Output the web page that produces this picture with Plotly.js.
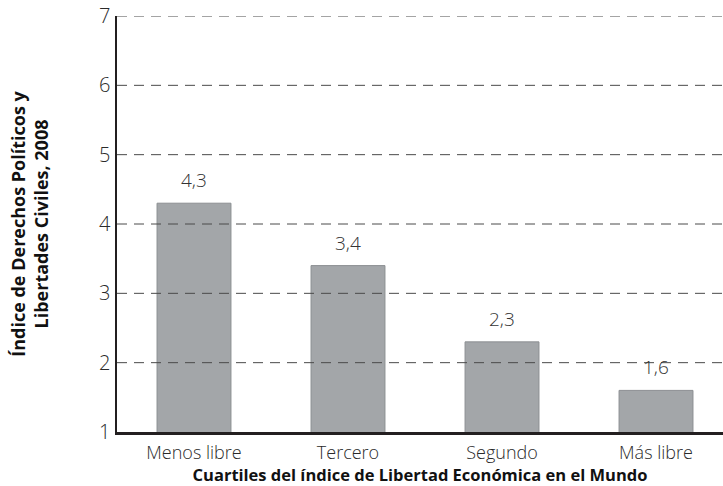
<!DOCTYPE html>
<html>
<head>
<meta charset="utf-8">
<script src="https://cdn.plot.ly/plotly-3.0.1.min.js"></script>
<style>html,body{margin:0;padding:0;background:#fff;}#chart{width:723px;height:486px;}</style>
</head>
<body>
<div id="chart"></div>
<script>
var categories = ["Menos libre", "Tercero", "Segundo", "Más libre"];
var values = [4.3, 3.4, 2.3, 1.6];
var yTicks = [1, 2, 3, 4, 5, 6, 7];
var gridValues = [2, 3, 4, 5, 6, 7];
var yTitle = "Índice de Derechos Políticos y<br>Libertades Civiles, 2008";
var xTitle = "Cuartiles del índice de Libertad Económica en el Mundo";

var trace = {
  type: "bar",
  x: categories,
  y: values,
  marker: {color: "#a3a6a9", line: {color: "#8c8f92", width: 1}},
  hoverinfo: "none",
  cliponaxis: true
};

var annotations = categories.map(function(c, i){
  return {x: c, y: values[i], xref: "x", yref: "y",
          text: values[i].toFixed(1).replace(".", ","),
          showarrow: false, yanchor: "bottom", yshift: 8,
          font: {family: "Open Sans", size: 19, color: "#333333", weight: 300}};
});

var shapes = gridValues.map(function(g){
  return {type: "line", xref: "paper", x0: 0, x1: 1, yref: "y", y0: g, y1: g,
          layer: "above", line: {color: "#4a4a4a", width: 1, dash: "10px,7px"}};
});

var layout = {
  width: 723, height: 486,
  margin: {l: 117, r: 0, t: 16, b: 54},
  paper_bgcolor: "#fff", plot_bgcolor: "#fff",
  showlegend: false,
  bargap: 0.52,
  font: {family: "Open Sans", color: "#333"},
  xaxis: {
    type: "category",
    range: [-0.5, 3.435],
    showgrid: false,
    showline: true, linecolor: "#231f20", linewidth: 2.5,
    ticks: "", ticklabelstandoff: 3,
    tickfont: {family: "Open Sans", size: 18, color: "#2a2a2a", weight: 300},
    title: {text: xTitle, font: {family: "Open Sans", size: 16.5, color: "#111", weight: "bold"}, standoff: 6}
  },
  yaxis: {
    range: [1, 7],
    tickvals: yTicks,
    ticktext: yTicks.map(String),
    showgrid: false,
    zeroline: false,
    showline: true, linecolor: "#231f20", linewidth: 2.5,
    ticks: "", ticklabelstandoff: 0,
    tickfont: {family: "Open Sans", size: 20, color: "#2a2a2a", weight: 300},
    title: {text: yTitle, font: {family: "Open Sans", size: 18, color: "#111", weight: "bold"}, standoff: 46}
  },
  shapes: shapes,
  annotations: annotations
};

Plotly.newPlot("chart", [trace], layout, {displayModeBar: false, staticPlot: true});
</script>
</body>
</html>
